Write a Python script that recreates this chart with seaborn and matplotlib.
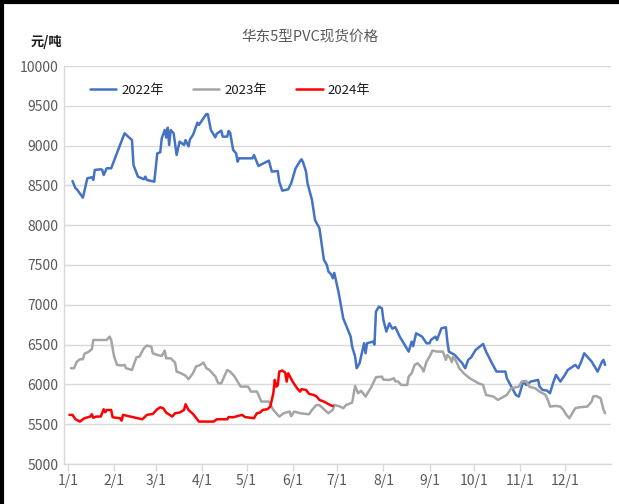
import numpy as np
import pandas as pd
import matplotlib
matplotlib.use("Agg")
import matplotlib.pyplot as plt
import seaborn as sns
from matplotlib.lines import Line2D

# ---- data (day offset from 1/1, price in 元/吨) ----
days_2022 = [3, 5, 6, 10, 13, 16, 17, 18, 22, 23, 24, 26, 29, 38, 40, 43, 44, 47, 51, 52, 53, 58,
             60, 62, 63, 65, 66, 67, 68, 69, 71, 73, 75, 78, 79, 81, 82, 84, 87, 88, 91, 93, 94,
             96, 99, 100, 103, 104, 107, 108, 109, 111, 113, 114, 115, 124, 125, 128, 135, 137,
             141, 142, 144, 148, 150, 153, 156, 157, 158, 160, 161, 164, 166, 169, 172, 174, 175,
             177, 178, 179, 182, 185, 190, 191, 193, 194, 196, 199, 200, 201, 205, 206, 207, 209,
             211, 212, 214, 216, 218, 220, 223, 229, 231, 232, 234, 238, 241, 243, 244, 247, 248,
             251, 254, 255, 256, 260, 262, 265, 267, 269, 271, 274, 279, 281, 285, 288, 294, 295,
             298, 301, 303, 304, 306, 308, 311, 316, 317, 319, 322, 324, 326, 328, 331, 334, 336,
             341, 343, 345, 347, 350, 352, 356, 359, 360, 361]
price_2022 = [8555, 8464, 8450, 8346, 8590, 8602, 8568, 8694, 8703, 8694, 8630, 8715, 8715, 9155,
              9120, 9070, 8757, 8610, 8577, 8610, 8568, 8547, 8903, 8916, 9092, 9196, 9100, 9225,
              9008, 9196, 9155, 8882, 9050, 9008, 9070, 8990, 9079, 9133, 9288, 9260, 9343, 9397,
              9393, 9196, 9104, 9150, 9188, 9113, 9113, 9184, 9160, 8945, 8903, 8798, 8840, 8840,
              8882, 8744, 8811, 8673, 8681, 8547, 8434, 8451, 8526, 8715, 8807, 8828, 8790, 8673,
              8526, 8317, 8066, 7962, 7565, 7500, 7420, 7380, 7333, 7400, 7145, 6830, 6600, 6474,
              6349, 6203, 6266, 6517, 6391, 6517, 6538, 6500, 6914, 6977, 6956, 6810, 6663, 6768,
              6700, 6720, 6600, 6412, 6538, 6480, 6642, 6600, 6517, 6517, 6560, 6600, 6558, 6705,
              6718, 6538, 6412, 6370, 6328, 6266, 6203, 6308, 6340, 6433, 6508, 6412, 6266, 6161,
              6161, 6077, 5972, 5868, 5847, 5910, 6035, 5993, 6035, 6056, 5972, 5931, 5922, 5889,
              6014, 6119, 6035, 6119, 6182, 6245, 6203, 6287, 6391, 6328, 6287, 6161, 6287, 6308,
              6245]

days_2023 = [2, 4, 6, 8, 10, 11, 14, 16, 17, 26, 28, 29, 31, 33, 36, 38, 39, 43, 46, 48, 51, 53,
             56, 57, 60, 63, 65, 66, 69, 72, 73, 76, 79, 81, 84, 86, 89, 91, 93, 95, 99, 101, 103,
             107, 109, 112, 116, 121, 123, 127, 130, 135, 138, 142, 145, 149, 150, 152, 156, 162,
             164, 167, 169, 172, 175, 178, 179, 183, 185, 187, 191, 193, 195, 197, 200, 204, 207,
             211, 212, 216, 219, 220, 222, 224, 228, 229, 231, 233, 235, 238, 239, 241, 243, 245,
             248, 252, 254, 255, 257, 258, 259, 261, 263, 266, 270, 276, 279, 281, 286, 289, 291,
             295, 298, 303, 305, 308, 310, 314, 317, 321, 323, 324, 328, 331, 333, 335, 337, 339,
             341, 344, 349, 352, 353, 355, 358, 360, 361]
price_2023 = [6203, 6203, 6287, 6316, 6316, 6383, 6412, 6442, 6558, 6558, 6600, 6560, 6349, 6245,
              6237, 6245, 6203, 6182, 6341, 6349, 6454, 6488, 6474, 6391, 6370, 6358, 6425, 6328,
              6328, 6274, 6161, 6140, 6110, 6065, 6140, 6224, 6245, 6274, 6203, 6182, 6100, 6014,
              6014, 6182, 6160, 6098, 5972, 5972, 5910, 5910, 5784, 5784, 5679, 5596, 5638, 5659,
              5600, 5659, 5638, 5625, 5679, 5742, 5740, 5688, 5638, 5680, 5742, 5721, 5701, 5742,
              5771, 5980, 5889, 5920, 5847, 5972, 6090, 6098, 6060, 6056, 6077, 6040, 6035, 5993,
              5993, 6098, 6140, 6245, 6266, 6203, 6161, 6287, 6349, 6425, 6412, 6412, 6308, 6370,
              6328, 6280, 6349, 6287, 6203, 6140, 6077, 6014, 5993, 5868, 5847, 5805, 5826, 5868,
              5951, 5972, 6035, 6043, 5972, 5951, 5910, 5868, 5784, 5721, 5730, 5721, 5679, 5617,
              5575, 5638, 5701, 5713, 5721, 5784, 5847, 5855, 5826, 5679, 5638]

days_2024 = [1, 3, 5, 8, 11, 15, 16, 17, 19, 22, 24, 25, 26, 29, 30, 35, 36, 37, 44, 50, 53, 57,
             60, 62, 64, 66, 70, 72, 75, 78, 79, 81, 84, 88, 98, 100, 107, 108, 111, 117, 119, 125,
             127, 129, 131, 134, 136, 138, 139, 140, 141, 142, 144, 146, 147, 148, 151, 154, 156,
             157, 160, 162, 165, 167, 169, 172, 174, 177, 178]
price_2024 = [5617, 5617, 5562, 5533, 5575, 5596, 5625, 5580, 5596, 5596, 5688, 5650, 5679, 5679,
              5587, 5575, 5545, 5617, 5587, 5562, 5617, 5629, 5688, 5713, 5700, 5646, 5596, 5638,
              5646, 5679, 5750, 5679, 5629, 5533, 5533, 5562, 5562, 5590, 5587, 5617, 5590, 5575,
              5638, 5646, 5680, 5688, 5721, 5889, 6056, 5972, 5990, 6161, 6174, 6148, 6035, 6140,
              6035, 5951, 5910, 5939, 5931, 5881, 5868, 5850, 5805, 5784, 5763, 5734, 5730]

series_names = ["2022年", "2023年", "2024年"]
series_colors = ["#4472C4", "#A5A5A5", "#FF0000"]
month_starts = [0, 31, 59, 90, 120, 151, 181, 212, 243, 273, 304, 334]
month_labels = ["1/1", "2/1", "3/1", "4/1", "5/1", "6/1", "7/1", "8/1", "9/1", "10/1", "11/1", "12/1"]
y_ticks = [5000, 5500, 6000, 6500, 7000, 7500, 8000, 8500, 9000, 9500, 10000]

df = pd.concat([
    pd.DataFrame({"day": days_2022, "price": price_2022, "year": series_names[0]}),
    pd.DataFrame({"day": days_2023, "price": price_2023, "year": series_names[1]}),
    pd.DataFrame({"day": days_2024, "price": price_2024, "year": series_names[2]}),
], ignore_index=True)

sns.set_theme(style="white")
plt.rcParams["font.family"] = ["Noto Sans CJK SC", "DejaVu Sans"]

fig = plt.figure(figsize=(6.19, 5.04), dpi=100)
ax = fig.add_axes([64 / 619, 1 - 464 / 504, (611 - 64) / 619, (464 - 66) / 504])

sns.lineplot(data=df, x="day", y="price", hue="year", hue_order=series_names,
             palette=dict(zip(series_names, series_colors)), linewidth=1.8,
             estimator=None, sort=True, ax=ax, legend=False)

ax.set_xlim(-2.7, 365)
ax.set_ylim(5000, 10000)
ax.set_xticks(month_starts)
ax.set_xticklabels(month_labels)
ax.set_yticks(y_ticks)
ax.set_yticklabels([str(v) for v in y_ticks])
ax.set_xlabel("")
ax.set_ylabel("")
ax.yaxis.grid(True, color="#D9D9D9", linewidth=1.0)
ax.xaxis.grid(False)
for s in ["top", "right"]:
    ax.spines[s].set_visible(False)
ax.spines["left"].set_color("#D9D9D9")
ax.spines["bottom"].set_color("#D9D9D9")
ax.spines["left"].set_linewidth(1.0)
ax.spines["bottom"].set_linewidth(1.0)
ax.tick_params(axis="x", length=5, width=1.0, color="#D9D9D9", bottom=True,
               labelsize=10, labelcolor="#595959", pad=2)
ax.tick_params(axis="y", length=0, labelsize=10, labelcolor="#595959", pad=4)

handles = [Line2D([0], [0], color=c, linewidth=1.8) for c in series_colors]
ax.legend(handles, series_names, loc="upper left", bbox_to_anchor=(0.025, 0.985), ncol=3,
          frameon=False, fontsize=9.5, handlelength=2.0, columnspacing=2.2,
          handletextpad=0.4, labelcolor="#1a1a1a")

fig.text(310 / 619, 1 - 37 / 504, "华东5型PVC现货价格", ha="center", va="center",
         fontsize=10.5, color="#595959")
fig.text(46 / 619, 1 - 42 / 504, "元/吨", ha="center", va="center",
         fontsize=9.5, color="#1a1a1a", fontweight="bold")

# outer frame lines (left and top)
fig.add_artist(Line2D([0.003, 0.003], [0, 1], transform=fig.transFigure, color="black", linewidth=3))
fig.add_artist(Line2D([0, 1], [0.997, 0.997], transform=fig.transFigure, color="black", linewidth=3))

fig.savefig("out.png", dpi=100)
